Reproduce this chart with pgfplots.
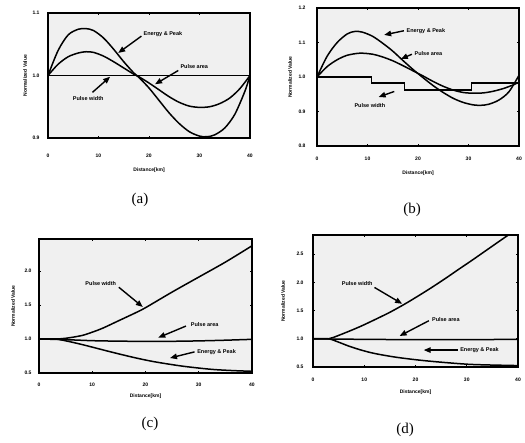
\documentclass[border=0pt]{standalone}
\usepackage{fontspec}
\setmainfont{Liberation Serif}
\newfontfamily\lab{Liberation Sans}
\usepackage{pgfplots}
\pgfplotsset{compat=1.18}
\usetikzlibrary{arrows.meta}
\newcommand{\tf}{\lab\bfseries\fontsize{5}{6}\selectfont}
\newcommand{\af}{\lab\bfseries\fontsize{5.5}{6}\selectfont}
\tikzset{
  ann/.style={-{Triangle[length=7pt,width=5.5pt]}, line width=1.4pt, black},
  atxt/.style={font=\af, anchor=west, inner sep=0.5pt},
}
\pgfplotsset{
  panel/.style={scale only axis, axis line style={line width=1.5pt},
    axis background/.style={fill=black!6},
    tick style={line width=0.8pt, black}, major tick length=2pt, tick align=inside,
    xmin=0, xmax=40, xtick={0,10,20,30,40},
    ticklabel style={font=\tf},
    label style={font=\tf},
    /pgf/number format/assume math mode=true,
    yticklabel style={/pgf/number format/fixed, /pgf/number format/fixed zerofill, /pgf/number format/precision=1},
    xlabel={Distance[km]}, ylabel={Normalized Value},
  },
  crv/.style={line width=1.5pt, black, no markers},
}
\begin{document}
\begin{tikzpicture}[x=1pt,y=1pt]
\useasboundingbox (0,0) rectangle (525,443);
% (a)
\begin{axis}[panel, at={(48pt,305pt)}, anchor=south west, width=202pt, height=125pt,
  ymin=0.9, ymax=1.1, ytick={0.9,1.0,1.1},
  xticklabel style={yshift=-12pt}, yticklabel style={xshift=-5pt},
  xlabel style={at={([yshift=-32pt]axis description cs:0.5,0)}, anchor=center},
  ylabel style={at={([xshift=-23pt]axis description cs:0,0.5)}, anchor=center}]
\addplot[crv, smooth] coordinates {(0,1.000)(2,1.040)(4,1.065)(6,1.074)(7.5,1.075)(9,1.072)(11,1.060)(13,1.042)(15,1.022)(17,1.004)(18,0.997)(20,0.980)(22,0.960)(24,0.940)(26,0.923)(28,0.910)(30,0.903)(31.5,0.902)(33,0.905)(35,0.916)(37,0.938)(39,0.975)(40,1.000)};
\addplot[crv, smooth] coordinates {(0,1.000)(2,1.018)(4,1.030)(6,1.036)(7.5,1.038)(9,1.037)(11,1.031)(13,1.022)(15,1.012)(17,1.002)(18,0.998)(20,0.988)(22,0.977)(24,0.966)(26,0.957)(28,0.951)(30,0.949)(32,0.950)(34,0.955)(36,0.964)(38,0.979)(40,1.000)};
\addplot[crv] coordinates {(0,1.0)(40,1.0)};
\node[atxt] at (axis cs:18.8,1.067) {Energy \& Peak};
\draw[ann] (axis cs:18.5,1.063) -- (axis cs:13.9,1.036);
\node[atxt] at (axis cs:26.1,1.014) {Pulse area};
\draw[ann] (axis cs:25.8,1.008) -- (axis cs:21.2,0.986);
\node[atxt] at (axis cs:4.8,0.963) {Pulse width};
\draw[ann] (axis cs:8.8,0.973) -- (axis cs:12.3,0.998);
\end{axis}
% (b)
\begin{axis}[panel, at={(317pt,297pt)}, anchor=south west, width=202pt, height=138pt,
  ymin=0.8, ymax=1.2, ytick={0.8,0.9,1.0,1.1,1.2},
  xticklabel style={yshift=-7pt}, yticklabel style={xshift=-8pt},
  xlabel style={at={([yshift=-27pt]axis description cs:0.5,0)}, anchor=center},
  ylabel style={at={([xshift=-27pt]axis description cs:0,0.5)}, anchor=center}]
\addplot[crv, smooth] coordinates {(0,1.0)(2,1.06)(4,1.10)(6,1.125)(7.5,1.132)(9,1.130)(11,1.118)(13,1.098)(15,1.075)(17,1.048)(19,1.022)(21,0.998)(23,0.975)(25,0.955)(27,0.938)(29,0.926)(31,0.919)(32.5,0.918)(34,0.921)(36,0.933)(38,0.957)(40,1.005)};
\addplot[crv, smooth] coordinates {(0,1.0)(2,1.03)(4,1.05)(6,1.063)(8.5,1.069)(11,1.066)(13,1.058)(15,1.047)(17,1.033)(19,1.018)(21,1.003)(23,0.987)(25,0.973)(27,0.962)(29,0.955)(31,0.953)(33,0.954)(35,0.959)(37,0.967)(39,0.978)(40,0.985)};
\addplot[crv, const plot] coordinates {(0,1.0)(10.8,0.983)(17.3,0.962)(30.6,0.983)(40,0.983)};
\node[atxt] at (axis cs:17.6,1.133) {Energy \& Peak};
\draw[ann] (axis cs:17.2,1.134) -- (axis cs:13.3,1.122);
\node[atxt] at (axis cs:19.2,1.067) {Pulse area};
\draw[ann] (axis cs:18.8,1.066) -- (axis cs:16.6,1.052);
\node[atxt] at (axis cs:7.3,0.916) {Pulse width};
\draw[ann] (axis cs:15.3,0.958) -- (axis cs:12.2,0.942);
\end{axis}
% (c)
\begin{axis}[panel, at={(39pt,70pt)}, anchor=south west, width=213pt, height=134pt,
  ymin=0.5, ymax=2.47, ytick={0.5,1.0,1.5,2.0},
  xticklabel style={yshift=-6pt}, yticklabel style={xshift=-4pt},
  xlabel style={at={([yshift=-23pt]axis description cs:0.5,0)}, anchor=center},
  ylabel style={at={([xshift=-26pt]axis description cs:0,0.5)}, anchor=center}]
\addplot[crv, smooth] coordinates {(0,1.0)(3,1.0)(5,1.01)(8,1.05)(10,1.10)(12,1.16)(15,1.27)(18,1.38)(20,1.46)(25,1.69)(30,1.91)(35,2.13)(40,2.37)};
\addplot[crv, smooth] coordinates {(0,1.0)(5,0.99)(10,0.975)(15,0.968)(20,0.965)(25,0.966)(30,0.972)(35,0.982)(40,0.995)};
\addplot[crv, smooth] coordinates {(0,1.0)(3,1.0)(5.2,0.97)(8,0.92)(11.5,0.85)(14,0.80)(17.7,0.73)(21,0.675)(24,0.635)(27,0.60)(30.3,0.57)(33,0.55)(36.5,0.535)(40,0.525)};
\node[atxt] at (axis cs:8.6,1.81) {Pulse width};
\draw[ann] (axis cs:15.0,1.76) -- (axis cs:19.5,1.47);
\node[atxt] at (axis cs:28.4,1.21) {Pulse area};
\draw[ann] (axis cs:27.6,1.19) -- (axis cs:22.4,1.02);
\node[atxt] at (axis cs:29.6,0.81) {Energy \& Peak};
\draw[ann] (axis cs:29.2,0.81) -- (axis cs:24.6,0.72);
\end{axis}
% (d)
\begin{axis}[panel, at={(313pt,76pt)}, anchor=south west, width=205pt, height=132pt,
  ymin=0.5, ymax=2.84, ytick={0.5,1.0,1.5,2.0,2.5},
  xticklabel style={yshift=-7pt}, yticklabel style={xshift=-6pt},
  xlabel style={at={([yshift=-25pt]axis description cs:0.5,0)}, anchor=center},
  ylabel style={at={([xshift=-30pt]axis description cs:0,0.5)}, anchor=center}]
\addplot[crv, smooth] coordinates {(0,1.0)(3,1.0)(5,1.06)(8,1.17)(10,1.25)(13,1.38)(15,1.47)(17.6,1.60)(20,1.73)(23,1.90)(26,2.08)(28.4,2.23)(31,2.39)(34,2.58)(37.8,2.82)(40,2.95)};
\addplot[crv, smooth] coordinates {(0,1.0)(10,0.99)(20,0.985)(30,0.985)(40,0.99)};
\addplot[crv, smooth] coordinates {(0,1.0)(3,1.0)(5,0.94)(7,0.87)(9.4,0.80)(12,0.74)(15.7,0.68)(19,0.64)(22,0.61)(25,0.585)(28.4,0.56)(31,0.545)(34.7,0.535)(40,0.525)};
\node[atxt] at (axis cs:5.5,1.98) {Pulse width};
\draw[ann] (axis cs:12.0,1.91) -- (axis cs:17.4,1.62);
\node[atxt] at (axis cs:23.1,1.34) {Pulse area};
\draw[ann] (axis cs:22.6,1.32) -- (axis cs:16.9,1.05);
\node[atxt] at (axis cs:28.6,0.80) {Energy \& Peak};
\draw[ann] (axis cs:28.2,0.80) -- (axis cs:21.6,0.80);
\end{axis}
% captions
\node[font=\fontsize{15}{15}\selectfont] at (140,243) {(a)};
\node[font=\fontsize{15}{15}\selectfont] at (412,233) {(b)};
\node[font=\fontsize{15}{15}\selectfont] at (150,19) {(c)};
\node[font=\fontsize{15}{15}\selectfont] at (405,13) {(d)};
\end{tikzpicture}
\end{document}
